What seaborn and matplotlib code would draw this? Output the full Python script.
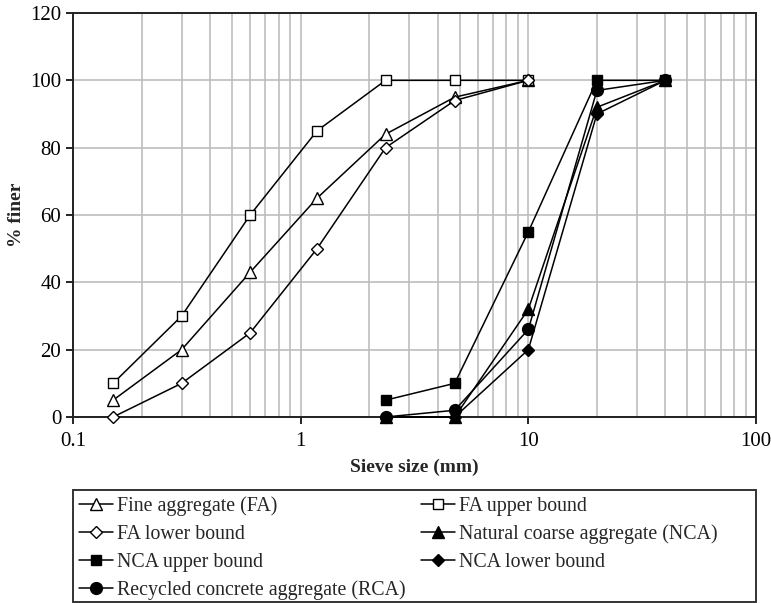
import numpy as np
import pandas as pd
import matplotlib
matplotlib.use("Agg")
import matplotlib.pyplot as plt
from matplotlib.ticker import LogLocator, NullFormatter
from matplotlib.patches import Rectangle
import seaborn as sns

# ---- data ----
fine_sizes = [0.15, 0.3, 0.6, 1.18, 2.36, 4.75, 10]
coarse_sizes = [2.36, 4.75, 10, 20, 40]

fa = [5, 20, 43, 65, 84, 95, 100]
fa_upper = [10, 30, 60, 85, 100, 100, 100]
fa_lower = [0, 10, 25, 50, 80, 94, 100]
nca = [0, 0, 32, 92, 100]
nca_upper = [5, 10, 55, 100, 100]
nca_lower = [0, 0, 20, 90, 100]
rca = [0, 2, 26, 97, 100]

labels = ["Fine aggregate (FA)", "FA upper bound", "FA lower bound",
          "Natural coarse aggregate (NCA)", "NCA upper bound",
          "NCA lower bound", "Recycled concrete aggregate (RCA)"]
xticks = [0.1, 1, 10, 100]
xtick_labels = ["0.1", "1", "10", "100"]
yticks = [0, 20, 40, 60, 80, 100, 120]

sns.set_theme(style="white")
plt.rcParams['font.family'] = ['Liberation Serif', 'DejaVu Serif']

fig = plt.figure(figsize=(7.71, 6.03), dpi=100)
ax = fig.add_axes([73/771, (603-417)/603, (756-73)/771, (417-13)/603])

series = [
    (fine_sizes, fa, labels[0], '^', 'white', 8.5),
    (fine_sizes, fa_upper, labels[1], 's', 'white', 7.5),
    (fine_sizes, fa_lower, labels[2], 'D', 'white', 6.0),
    (coarse_sizes, nca, labels[3], '^', 'black', 8.5),
    (coarse_sizes, nca_upper, labels[4], 's', 'black', 7.5),
    (coarse_sizes, nca_lower, labels[5], 'D', 'black', 6.0),
    (coarse_sizes, rca, labels[6], 'o', 'black', 8.5),
]

for xs, ys, lab, mk, fc, ms in series:
    df = pd.DataFrame({"size": xs, "finer": ys})
    sns.lineplot(data=df, x="size", y="finer", ax=ax, color="black",
                 linewidth=1.1, marker=mk, markersize=ms,
                 markerfacecolor=fc, markeredgecolor="black",
                 markeredgewidth=1.0, label=lab, zorder=3, clip_on=False)

h, l = ax.get_legend_handles_labels()
if ax.get_legend() is not None:
    ax.get_legend().remove()

ax.set_xscale("log")
ax.set_xlim(0.1, 100)
ax.set_ylim(0, 120)
ax.set_xticks(xticks)
ax.set_xticklabels(xtick_labels)
ax.xaxis.set_minor_locator(LogLocator(base=10, subs=np.arange(2, 10)))
ax.xaxis.set_minor_formatter(NullFormatter())
ax.set_yticks(yticks)

ax.grid(True, which="major", color="#bdbdbd", linewidth=1.2, zorder=0)
ax.grid(True, which="minor", axis="x", color="#bdbdbd", linewidth=1.2, zorder=0)
ax.set_axisbelow(True)

for s in ax.spines.values():
    s.set_color("#222222")
    s.set_linewidth(1.4)

ax.tick_params(axis="both", which="major", labelsize=15, colors="black",
               length=5, width=1.2, direction="out", bottom=True, left=True)
ax.tick_params(axis="x", which="minor", length=0)
ax.tick_params(axis="x", pad=6)

ax.set_xlabel("Sieve size (mm)", fontsize=14, fontweight="bold", labelpad=5)
ax.set_ylabel("% finer", fontsize=14, fontweight="bold", labelpad=4)

hd = dict(zip(l, h))
order = [labels[0], labels[2], labels[4], labels[6], labels[1], labels[3], labels[5]]
leg = fig.legend([hd[o] for o in order], order, ncol=2, loc="upper left",
                 bbox_to_anchor=(79/771, (603-496)/603),
                 fontsize=14.3, frameon=False,
                 handlelength=1.7, handletextpad=0.2, labelspacing=0.45,
                 borderpad=0.0, borderaxespad=0.0, columnspacing=0.8)

fig.patches.append(Rectangle((73/771, (603-602)/603), (756-73)/771, (602-490)/603,
                             transform=fig.transFigure, fill=False,
                             edgecolor="#333333", linewidth=1.4))

fig.savefig("out.png", dpi=100)
